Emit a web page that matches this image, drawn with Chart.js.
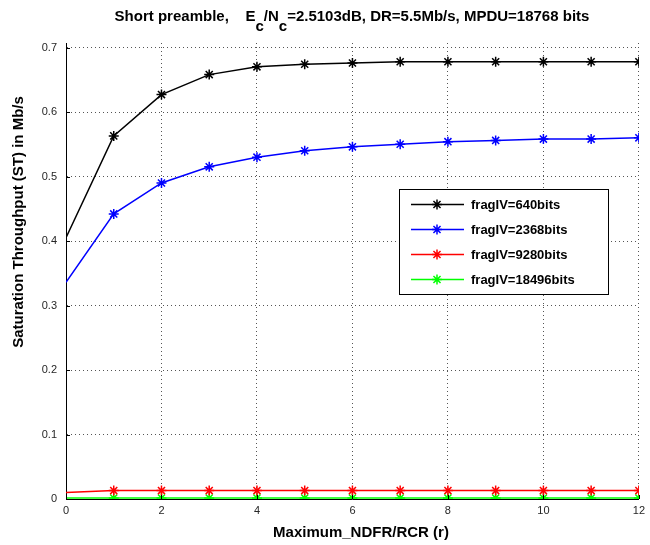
<!DOCTYPE html>
<html lang="en">
<head>
    <meta charset="utf-8">
    <title>Saturation throughput</title>
    <script src="https://cdn.jsdelivr.net/npm/chart.js@4/dist/chart.umd.min.js"></script>
    <style>
        body { margin: 0; background: #fff; }
        #wrap { width: 650px; height: 545px; }
    </style>
</head>
<body>
    <div id="wrap"><canvas id="st" width="650" height="545"></canvas></div>
    <script>
        const xValues = [0, 1, 2, 3, 4, 5, 6, 7, 8, 9, 10, 11, 12];
        const frag640 = [0.405, 0.563, 0.627, 0.658, 0.670, 0.674, 0.676, 0.678, 0.678, 0.678, 0.678, 0.678, 0.678];
        const frag2368 = [0.336, 0.442, 0.490, 0.515, 0.530, 0.540, 0.546, 0.550, 0.554, 0.556, 0.558, 0.558, 0.560];
        const frag9280 = [0.010, 0.013, 0.013, 0.013, 0.013, 0.013, 0.013, 0.013, 0.013, 0.013, 0.013, 0.013, 0.013];
        const frag18496 = [0.0015, 0.0015, 0.0015, 0.0015, 0.0015, 0.0015, 0.0015, 0.0015, 0.0015, 0.0015, 0.0015, 0.0015, 0.0015];
        const seriesLabels = ['fragIV=640bits', 'fragIV=2368bits', 'fragIV=9280bits', 'fragIV=18496bits'];
        const seriesColors = ['#000000', '#0000ff', '#ff0000', '#00ff00'];
        const xTicks = [0, 2, 4, 6, 8, 10, 12];
        const yTicks = [0, 0.1, 0.2, 0.3, 0.4, 0.5, 0.6, 0.7];
        const xTitle = 'Maximum_NDFR/RCR (r)';
        const yTitle = 'Saturation Throughput (ST) in Mb/s';

        const FONT = '"Liberation Sans", Arial, sans-serif';

        const makeSet = (i, values) => ({
            label: seriesLabels[i],
            data: xValues.map((x, j) => ({ x: x, y: values[j] })),
            borderColor: seriesColors[i],
            backgroundColor: seriesColors[i],
            borderWidth: 1.5,
            pointStyle: 'star',
            pointRadius: (c) => c.dataIndex === 0 ? 0 : 5,
            pointBorderWidth: 1.5,
            pointHoverRadius: 5,
            tension: 0,
        });

        // title with subscripts, axis titles, inward ticks and the boxed legend
        const decorations = {
            id: 'decorations',
            afterDraw(chart) {
                const ctx = chart.ctx;
                const area = chart.chartArea;
                const xs = chart.scales.x;
                const ys = chart.scales.y;
                ctx.save();

                // inward tick marks
                ctx.strokeStyle = '#000';
                ctx.lineWidth = 1;
                ctx.beginPath();
                yTicks.forEach(v => {
                    const y = Math.round(ys.getPixelForValue(v)) + 0.5;
                    ctx.moveTo(area.left, y);
                    ctx.lineTo(area.left + 4, y);
                });
                xTicks.forEach(v => {
                    const x = Math.round(xs.getPixelForValue(v)) + 0.5;
                    ctx.moveTo(x, area.bottom);
                    ctx.lineTo(x, area.bottom - 4);
                });
                ctx.stroke();

                // title
                ctx.fillStyle = '#000';
                ctx.textBaseline = 'alphabetic';
                ctx.textAlign = 'left';
                ctx.font = 'bold 15px ' + FONT;
                const parts = [
                    ['Short preamble,    E', 0],
                    ['c', 10],
                    ['/N', 0],
                    ['c', 10],
                    ['=2.5103dB, DR=5.5Mb/s, MPDU=18768 bits', 0],
                ];
                const total = parts.reduce((s, p) => s + ctx.measureText(p[0]).width, 0);
                let tx = 352 - total / 2;
                parts.forEach(p => {
                    ctx.fillText(p[0], tx, 21 + p[1]);
                    tx += ctx.measureText(p[0]).width;
                });

                // axis titles
                ctx.font = 'bold 15px ' + FONT;
                ctx.textAlign = 'center';
                ctx.textBaseline = 'middle';
                ctx.fillText(xTitle, 361, 533);
                ctx.translate(19, 222);
                ctx.rotate(-Math.PI / 2);
                ctx.fillText(yTitle, 0, 0);
                ctx.setTransform(1, 0, 0, 1, 0, 0);

                // legend
                const box = { left: 399.5, top: 189.5, width: 209, height: 105 };
                ctx.fillStyle = '#fff';
                ctx.fillRect(box.left, box.top, box.width, box.height);
                ctx.strokeStyle = '#000';
                ctx.lineWidth = 1;
                ctx.strokeRect(box.left, box.top, box.width, box.height);
                ctx.font = 'bold 13px ' + FONT;
                ctx.textAlign = 'left';
                ctx.textBaseline = 'middle';
                chart.data.datasets.forEach((ds, i) => {
                    const y = 204.5 + i * 25;
                    ctx.strokeStyle = ds.borderColor;
                    ctx.lineWidth = 1.5;
                    ctx.beginPath();
                    ctx.moveTo(411, y);
                    ctx.lineTo(464, y);
                    ctx.stroke();
                    ctx.lineWidth = 1.5;
                    Chart.helpers.drawPoint(ctx, { pointStyle: 'star', radius: 5, borderWidth: 1.5 }, 437, y);
                    ctx.fillStyle = '#000';
                    ctx.fillText(ds.label, 471, y + 1);
                });
                ctx.restore();
            }
        };

        new Chart(document.getElementById('st'), {
            type: 'line',
            data: {
                datasets: [
                    makeSet(0, frag640),
                    makeSet(1, frag2368),
                    makeSet(2, frag9280),
                    makeSet(3, frag18496),
                ]
            },
            options: {
                responsive: false,
                animation: false,
                devicePixelRatio: 1,
                layout: { padding: { top: 43, right: 11, left: 0, bottom: 0 } },
                plugins: {
                    legend: { display: false },
                    tooltip: { enabled: false },
                },
                scales: {
                    x: {
                        type: 'linear',
                        min: 0,
                        max: 12,
                        afterBuildTicks: (s) => { s.ticks = xTicks.map(v => ({ value: v })); },
                        afterFit: (s) => { s.height = 46; },
                        ticks: {
                            font: { family: FONT, size: 11 },
                            color: '#262626',
                            padding: 5,
                            maxRotation: 0,
                        },
                        grid: { color: '#555', lineWidth: 1, drawTicks: false },
                        border: { display: true, color: '#000', width: 1, dash: [1, 3] },
                    },
                    y: {
                        type: 'linear',
                        min: 0,
                        max: 0.707,
                        afterBuildTicks: (s) => { s.ticks = yTicks.map(v => ({ value: v })); },
                        afterFit: (s) => { s.width = 66; },
                        ticks: {
                            font: { family: FONT, size: 11 },
                            color: '#262626',
                            padding: 9,
                            callback: (v) => String(Math.round(v * 10) / 10),
                        },
                        grid: { color: '#555', lineWidth: 1, drawTicks: false },
                        border: { display: true, color: '#000', width: 1, dash: [1, 3] },
                    },
                },
            },
            plugins: [decorations],
        });
    </script>
</body>
</html>
